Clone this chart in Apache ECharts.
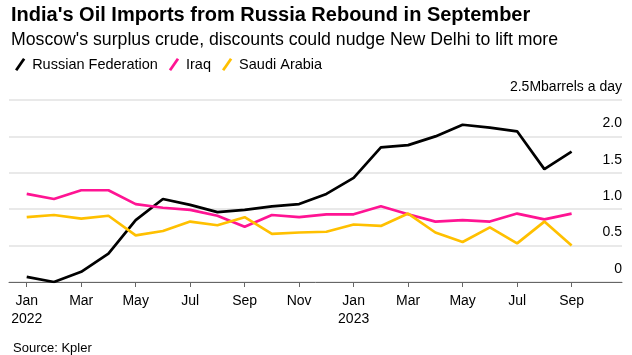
<!DOCTYPE html>
<html><head><meta charset="utf-8">
<script src="https://cdn.jsdelivr.net/npm/echarts@6/dist/echarts.min.js"></script>
<style>html,body{margin:0;padding:0;background:#fff}#c{width:632px;height:355px}</style>
</head><body><div id="c"></div>
<script>
var months = ['Jan 2022','Feb 2022','Mar 2022','Apr 2022','May 2022','Jun 2022','Jul 2022','Aug 2022','Sep 2022','Oct 2022','Nov 2022','Dec 2022','Jan 2023','Feb 2023','Mar 2023','Apr 2023','May 2023','Jun 2023','Jul 2023','Aug 2023','Sep 2023'];
var tickLabels = ['Jan\n2022','Mar','May','Jul','Sep','Nov','Jan\n2023','Mar','May','Jul','Sep'];
var russia = [0.07,0.0,0.14,0.39,0.85,1.14,1.06,0.96,0.99,1.04,1.07,1.21,1.43,1.85,1.88,2.0,2.16,2.12,2.07,1.55,1.79];
var iraq   = [1.21,1.14,1.26,1.26,1.07,1.02,0.99,0.91,0.76,0.92,0.89,0.93,0.93,1.04,0.93,0.83,0.85,0.83,0.94,0.86,0.94];
var saudi  = [0.89,0.92,0.87,0.91,0.64,0.70,0.83,0.78,0.89,0.66,0.68,0.69,0.79,0.77,0.94,0.68,0.55,0.75,0.53,0.83,0.50];
var yTicks = ['0','0.5','1.0','1.5','2.0','2.5Mbarrels a day'];

var FONT = '"Liberation Sans", Arial, sans-serif';
function pts(arr){ return arr.map(function(v,i){ return [i,v]; }); }
var tickIdx = tickLabels.map(function(_,k){ return k*2; });
var slash = 'path://M0,10 L7,0 L9,1.4 L2,11.4 Z';

var chart = echarts.init(document.getElementById('c'));
chart.setOption({
  animation:false,
  title:[
    {text:"India's Oil Imports from Russia Rebound in September", left:6, top:0,
     textStyle:{fontFamily:FONT,fontSize:20,fontWeight:'bold',color:'#000'}},
    {text:"Moscow's surplus crude, discounts could nudge New Delhi to lift more", left:6, top:26,
     textStyle:{fontFamily:FONT,fontSize:17.7,fontWeight:'normal',color:'#000'}},
    {text:'Source: Kpler', left:8, top:337,
     textStyle:{fontFamily:FONT,fontSize:13,fontWeight:'normal',color:'#000'}}
  ],
  legend:{left:10, top:52, itemWidth:12, itemHeight:13, itemGap:11,
    textStyle:{fontFamily:FONT,fontSize:14.5,color:'#000',padding:[0,0,0,1]},
    data:[{name:'Russian Federation',icon:slash},{name:'Iraq',icon:slash},{name:'Saudi Arabia',icon:slash}]},
  grid:{left:9,right:10,top:100,bottom:73},
  xAxis:{type:'value',min:-0.65,max:21.85,
    axisLine:{show:true,onZero:false,lineStyle:{color:'#666',width:1}},
    axisTick:{show:true,length:5,customValues:tickIdx,lineStyle:{color:'#666'}},
    splitLine:{show:false},
    axisLabel:{customValues:tickIdx,fontFamily:FONT,fontSize:14,color:'#000',margin:10,lineHeight:18,
      formatter:function(v){ return tickLabels[Math.round(v/2)] || ''; }}},
  yAxis:{type:'value',position:'right',min:0,max:2.5,interval:0.5,
    axisLine:{show:false},axisTick:{show:false},
    splitLine:{show:true,lineStyle:{color:'#e2e2e2',width:1.5}},
    axisLabel:{inside:true,margin:0,align:'right',verticalAlign:'bottom',padding:[0,0,6,0],
      fontFamily:FONT,fontSize:14,color:'#000',
      formatter:function(v){ return yTicks[Math.round(v/0.5)]; }}},
  series:[
    {name:'Russian Federation',type:'line',data:pts(russia),symbol:'none',color:'#000',lineStyle:{width:2.7,color:'#000'}},
    {name:'Iraq',type:'line',data:pts(iraq),symbol:'none',color:'#ff1493',lineStyle:{width:2.7,color:'#ff1493'}},
    {name:'Saudi Arabia',type:'line',data:pts(saudi),symbol:'none',color:'#ffc000',lineStyle:{width:2.7,color:'#ffc000'}}
  ]
});
</script></body></html>
